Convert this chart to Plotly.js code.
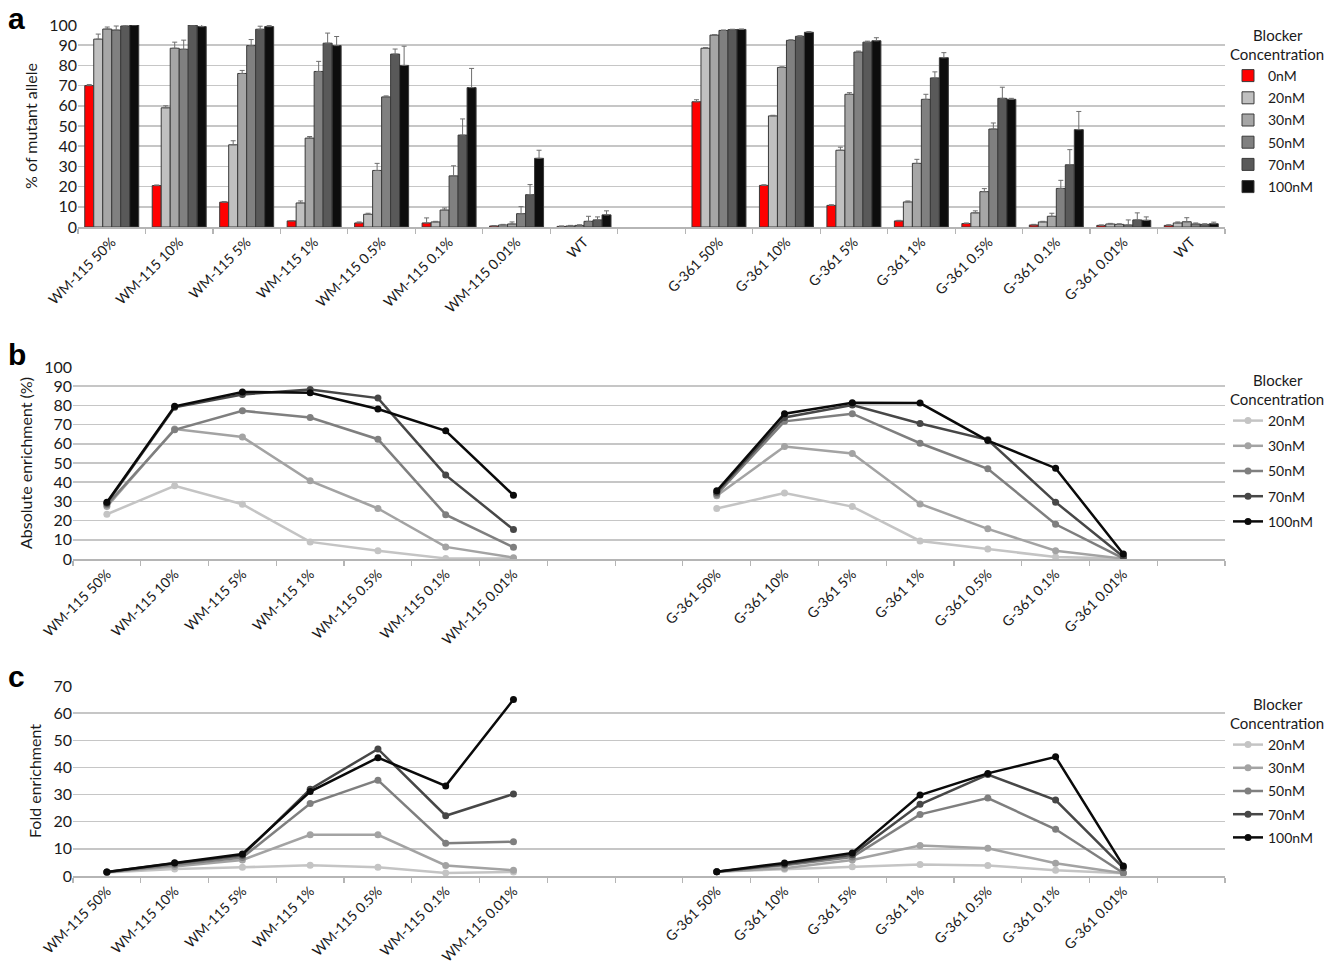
<!DOCTYPE html>
<html>
<head>
<meta charset="utf-8">
<script src="https://cdn.plot.ly/plotly-3.0.1.min.js"></script>
<style>html,body{margin:0;padding:0;background:#fff;}#chart{width:1338px;height:963px;}</style>
</head>
<body>
<div id="chart"></div>
<script>
// ---------- categories / tick labels ----------
const ticksA = ['WM-115 50%','WM-115 10%','WM-115 5%','WM-115 1%','WM-115 0.5%','WM-115 0.1%','WM-115 0.01%','WT','',
                'G-361 50%','G-361 10%','G-361 5%','G-361 1%','G-361 0.5%','G-361 0.1%','G-361 0.01%','WT'];
const ticksBC = ['WM-115 50%','WM-115 10%','WM-115 5%','WM-115 1%','WM-115 0.5%','WM-115 0.1%','WM-115 0.01%','','',
                 'G-361 50%','G-361 10%','G-361 5%','G-361 1%','G-361 0.5%','G-361 0.1%','G-361 0.01%',''];
const seriesA = ['0nM','20nM','30nM','50nM','70nM','100nM'];
const seriesBC = ['20nM','30nM','50nM','70nM','100nM'];

// ---------- panel a: % of mutant allele ----------
const a0   = [70, 20.5, 12.3, 3, 2, 2, 0.5, 0.3, null, 62, 20.6, 10.7, 3, 1.7, 1, 0.8, 0.8];
const a0e  = [0.5, 0.3, 0.3, 0.2, 0.5, 2.5, 0.2, 0.2, null, 1, 0.3, 0.3, 0.3, 0.3, 0.3, 0.2, 0.3];
const a20  = [93, 59, 40.7, 11.9, 6.3, 2.5, 1, 0.5, null, 88.5, 55, 38, 12.4, 7, 2.5, 1.5, 2];
const a20e = [2.5, 1, 2, 1, 0.5, 0.3, 0.3, 0.3, null, 0.3, 0.3, 1.5, 0.5, 1, 0.3, 0.3, 0.5];
const a30  = [98, 88.5, 76, 44, 28, 8.4, 1.5, 0.8, null, 95, 79, 65.7, 31.5, 17.5, 5.3, 1.3, 2.6];
const a30e = [1, 3, 1.5, 0.8, 3.5, 1, 1, 0.3, null, 0.2, 0.3, 0.8, 2, 1.5, 1.5, 0.3, 2];
const a50  = [97.5, 88, 89.8, 77, 64.4, 25.3, 6.6, 2.8, null, 97.3, 92.4, 86.6, 63.2, 48.5, 19.1, 1, 1.5];
const a50e = [2, 4.5, 3, 5, 0.5, 5, 3.5, 2.5, null, 0.2, 0.3, 0.5, 2.5, 3, 4, 2.5, 0.5];
const a70  = [99.5, 100, 97.9, 91, 85.6, 45.5, 16, 3.5, null, 97.7, 94.4, 91.5, 73.8, 63.7, 30.8, 3.5, 1.3];
const a70e = [0.5, 1, 1.5, 5, 2.5, 8, 5, 1.5, null, 0.2, 0.3, 0.5, 3, 5.5, 7.5, 3.5, 0.3];
const a100 = [100, 99.2, 99.2, 89.8, 80, 69, 34, 6, null, 97.8, 96.4, 92.2, 83.8, 63.2, 48.2, 3.3, 1.6];
const a100e= [0.5, 1, 0.5, 4.5, 9.5, 9.5, 4, 2, null, 0.2, 0.3, 1.5, 2.5, 0.5, 9, 1.7, 0.8];

// ---------- panel b: absolute enrichment (%) ----------
const b20  = [23.3, 38.1, 28.5, 8.9, 4.3, 0.3, 0.3, null, null, 26.3, 34.4, 27.3, 9.4, 5.2, 1, 0.2, null];
const b30  = [27.3, 67.7, 63.5, 40.7, 26.3, 6.3, 0.7, null, null, 32.9, 58.6, 55, 28.7, 15.7, 4.3, 0.2, null];
const b50  = [28.2, 67.3, 77.2, 73.7, 62.4, 23.1, 6.1, null, null, 33.7, 71.7, 75.7, 60.3, 47, 18.1, 0.3, null];
const b70  = [29, 79, 85.7, 88.3, 83.8, 43.7, 15.3, null, null, 34.8, 73.7, 80.2, 70.6, 62.1, 29.6, 1.2, null];
const b100 = [29.6, 79.5, 87, 86.6, 78.1, 66.8, 33.2, null, null, 35.5, 75.7, 81.4, 81.2, 61.7, 47.3, 2.6, null];

// ---------- panel c: fold enrichment ----------
const c20  = [1.3, 2.6, 3.2, 4.0, 3.2, 1.1, 1.5, null, null, 1.6, 2.5, 3.4, 4.2, 3.9, 2.1, 1.0, null];
const c30  = [1.4, 3.5, 5.9, 15.2, 15.2, 3.9, 2.1, null, null, 1.6, 2.9, 5.9, 11.2, 10.2, 4.7, 1.0, null];
const c50  = [1.4, 4.2, 6.8, 26.7, 35.3, 12.1, 12.6, null, null, 1.6, 4.0, 7.0, 22.7, 28.7, 17.2, 1.1, null];
const c70  = [1.5, 4.7, 7.6, 32.0, 46.8, 22.2, 30.2, null, null, 1.6, 4.3, 7.8, 26.4, 37.4, 28.0, 3.0, null];
const c100 = [1.5, 4.9, 8.1, 31.1, 43.6, 33.2, 65.0, null, null, 1.6, 4.8, 8.5, 29.8, 37.8, 43.9, 3.7, null];

// ---------- styles ----------
const barColors  = ['#ff0000','#c0c0c0','#a6a6a6','#808080','#595959','#0d0d0d'];
const lineColors = ['#c4c4c4','#a3a3a3','#7f7f7f','#474747','#0a0a0a'];
const FONT = 'Lato, "Open Sans", sans-serif';
const TXT = '#1a1a1a';
const GRID = '#c6c6c6';
const W = 1338, H = 963;
const px = v => v / W;
const py = v => 1 - v / H;

const xIdx = ticksA.map((_, i) => i);

const aVals = [a0, a20, a30, a50, a70, a100];
const aErrs = [a0e, a20e, a30e, a50e, a70e, a100e];
const bVals = [b20, b30, b50, b70, b100];
const cVals = [c20, c30, c50, c70, c100];

const traces = [];
seriesA.forEach((name, k) => {
  traces.push({
    type: 'bar', name: name, x: xIdx, y: aVals[k], xaxis: 'x', yaxis: 'y',
    legend: 'legend', legendgroup: 'a' + k,
    marker: {color: barColors[k], line: {color: '#3a3a3a', width: 1}},
    error_y: {type: 'data', symmetric: false, array: aErrs[k], arrayminus: aErrs[k].map(v => v === null ? null : 0),
              color: '#6e6e6e', thickness: 1, width: 2.5},
    hoverinfo: 'skip'
  });
});
seriesBC.forEach((name, k) => {
  traces.push({
    type: 'scatter', mode: 'lines+markers', name: name, x: xIdx, y: bVals[k], xaxis: 'x2', yaxis: 'y2',
    legend: 'legend2', legendgroup: 'b' + k,
    line: {color: lineColors[k], width: 2.5}, marker: {color: lineColors[k], size: 7}, connectgaps: false
  });
});
seriesBC.forEach((name, k) => {
  traces.push({
    type: 'scatter', mode: 'lines+markers', name: name, x: xIdx, y: cVals[k], xaxis: 'x3', yaxis: 'y3',
    legend: 'legend3', legendgroup: 'c' + k,
    line: {color: lineColors[k], width: 2.5}, marker: {color: lineColors[k], size: 7}, connectgaps: false
  });
});

function xAxis(domain, anchor, labels) {
  return {
    domain: domain, anchor: anchor, type: 'linear', range: [-0.5, ticksA.length - 0.5],
    tickmode: 'array', tickvals: xIdx, ticktext: labels, tickangle: -45,
    ticks: '', showgrid: false, zeroline: false,
    showline: true, linecolor: '#b5b5b5', linewidth: 1.5,
    minor: {tickmode: 'linear', tick0: 0.5, dtick: 1, ticks: 'outside', ticklen: 5, tickwidth: 1.2, tickcolor: '#b5b5b5', showgrid: false},
    tickfont: {family: FONT, size: 14, color: TXT}, fixedrange: true
  };
}
function yAxis(domain, anchor, range, title) {
  return {
    domain: domain, anchor: anchor, range: range, dtick: 10, tick0: 0,
    showgrid: true, gridcolor: GRID, gridwidth: 1.5, zeroline: false, showline: false, ticks: '',
    tickfont: {family: FONT, size: 16, color: TXT},
    title: {text: title, font: {family: FONT, size: 16, color: TXT}, standoff: 7}, fixedrange: true
  };
}
const legendTitle = '&nbsp;&nbsp;&nbsp;&nbsp;&nbsp;&nbsp;Blocker<br>Concentration';
function legend(yTop, fontSize, gap) {
  return {
    x: px(1228), xanchor: 'left', y: py(yTop), yanchor: 'top',
    bgcolor: 'rgba(0,0,0,0)', borderwidth: 0, traceorder: 'grouped', tracegroupgap: gap,
    font: {family: FONT, size: fontSize, color: TXT}, itemwidth: 30,
    title: {text: legendTitle, side: 'top', font: {family: FONT, size: 15, color: TXT}}
  };
}

const layout = {
  width: W, height: H, margin: {l: 0, r: 0, t: 0, b: 0},
  paper_bgcolor: '#fff', plot_bgcolor: '#fff',
  barmode: 'group', bargap: 0.2, bargroupgap: 0,
  showlegend: true,
  xaxis: xAxis([px(78), px(1225)], 'y', ticksA),
  yaxis: yAxis([py(227), py(25)], 'x', [0, 100], '% of mutant allele'),
  xaxis2: xAxis([px(73), px(1225)], 'y2', ticksBC),
  yaxis2: yAxis([py(559), py(367)], 'x2', [0, 100], 'Absolute enrichment (%)'),
  xaxis3: xAxis([px(73), px(1225)], 'y3', ticksBC),
  yaxis3: yAxis([py(876), py(686)], 'x3', [0, 70], 'Fold enrichment'),
  legend: legend(21, 14, 1),
  legend2: legend(366, 14, 4),
  legend3: legend(690, 14, 2),
  annotations: [
    {text: '<b>a</b>', xref: 'paper', yref: 'paper', x: px(6), y: py(18), xanchor: 'left', yanchor: 'middle', showarrow: false, font: {family: 'Liberation Sans, Arial, sans-serif', size: 30, color: '#000'}},
    {text: '<b>b</b>', xref: 'paper', yref: 'paper', x: px(6), y: py(354), xanchor: 'left', yanchor: 'middle', showarrow: false, font: {family: 'Liberation Sans, Arial, sans-serif', size: 30, color: '#000'}},
    {text: '<b>c</b>', xref: 'paper', yref: 'paper', x: px(6), y: py(676), xanchor: 'left', yanchor: 'middle', showarrow: false, font: {family: 'Liberation Sans, Arial, sans-serif', size: 30, color: '#000'}}
  ]
};

Plotly.newPlot('chart', traces, layout, {displayModeBar: false, staticPlot: true});
</script>
</body>
</html>
